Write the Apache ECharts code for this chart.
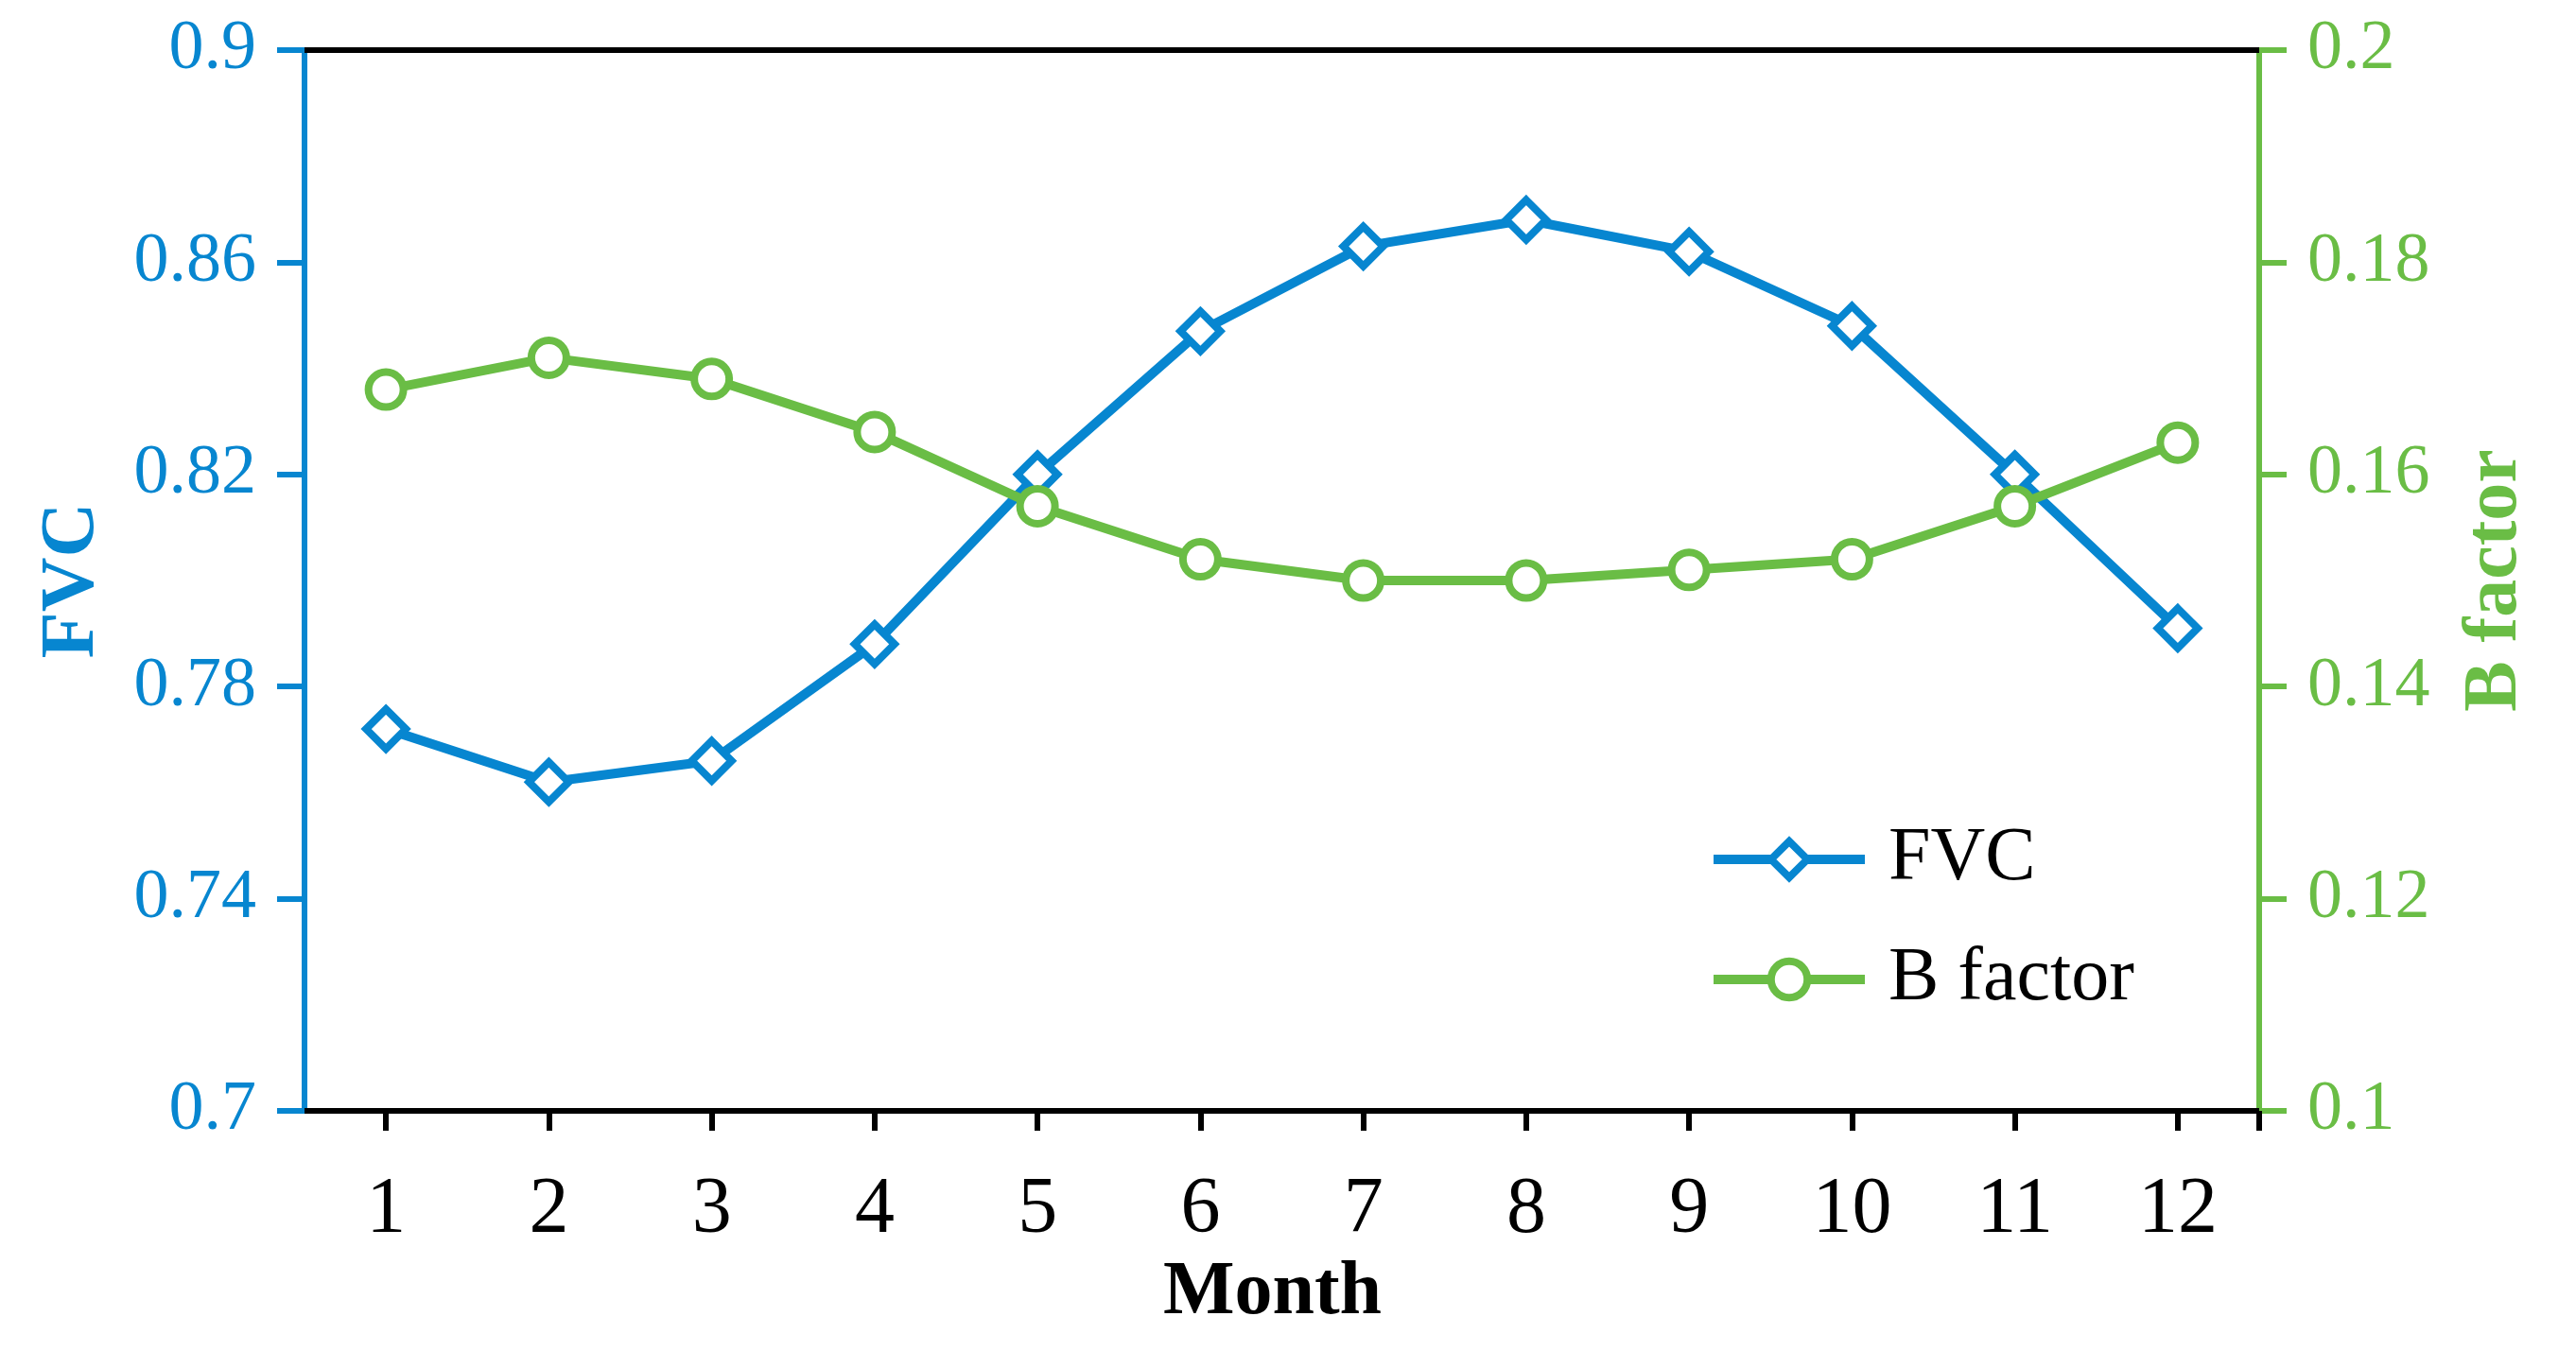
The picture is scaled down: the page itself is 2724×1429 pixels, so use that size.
<!DOCTYPE html>
<html>
<head>
<meta charset="utf-8">
<script src="https://cdn.jsdelivr.net/npm/echarts@6/dist/echarts.min.js"></script>
<style>
html,body{margin:0;padding:0;background:#fff;}
#chart{width:2724px;height:1429px;}
</style>
</head>
<body>
<div id="chart"></div>
<script>
const months = ['1','2','3','4','5','6','7','8','9','10','11','12'];
const fvc = [0.772, 0.762, 0.766, 0.788, 0.820, 0.847, 0.863, 0.868, 0.862, 0.848, 0.820, 0.791];
const bFactor = [0.168, 0.171, 0.169, 0.164, 0.157, 0.152, 0.150, 0.150, 0.151, 0.152, 0.157, 0.163];
const fvcTicks = [0.7, 0.74, 0.78, 0.82, 0.86, 0.9];
const bTicks = [0.1, 0.12, 0.14, 0.16, 0.18, 0.2];

const BLUE = '#0786d0';
const GREEN = '#6abd45';
const FONT = 'Liberation Serif';
const fmt = v => String(Math.round(v * 1000) / 1000);

const chart = echarts.init(document.getElementById('chart'), null, {renderer: 'canvas'});
chart.setOption({
  backgroundColor: '#fff',
  animation: false,
  grid: {left: 322, right: 335, top: 53, bottom: 254, containLabel: false},
  legend: {
    orient: 'vertical',
    left: 1807,
    top: 869,
    padding: 0,
    itemWidth: 160,
    itemHeight: 48,
    itemGap: 47,
    lineStyle: {width: 10},
    itemStyle: {borderWidth: 8},
    textStyle: {fontFamily: FONT, fontSize: 80, color: '#000', lineHeight: 80, padding: [0, 0, 0, 20]},
    data: ['FVC', 'B factor']
  },
  xAxis: [{
    type: 'category',
    data: months,
    boundaryGap: true,
    name: 'Month',
    nameLocation: 'middle',
    nameGap: 148,
    nameTextStyle: {fontFamily: FONT, fontSize: 80, fontWeight: 'bold', color: '#000', padding: [0, 20, 0, 0]},
    axisLine: {show: true, lineStyle: {color: '#000', width: 6}},
    axisTick: {show: true, alignWithLabel: true, inside: false, length: 21, lineStyle: {color: '#000', width: 6}},
    axisLabel: {fontFamily: FONT, fontSize: 84, color: '#000', margin: 64},
    splitLine: {show: false}
  }, {
    type: 'category',
    data: months,
    position: 'top',
    axisLine: {show: true, lineStyle: {color: '#000', width: 6}},
    axisTick: {show: false},
    axisLabel: {show: false},
    splitLine: {show: false}
  }, {
    type: 'value',
    position: 'bottom',
    min: 0.5,
    max: 12.5,
    axisLine: {show: false},
    axisTick: {show: true, inside: false, length: 21, customValues: [12.5], lineStyle: {color: '#000', width: 6}},
    axisLabel: {show: false},
    splitLine: {show: false}
  }],
  yAxis: [{
    type: 'value',
    position: 'left',
    min: fvcTicks[0],
    max: fvcTicks[fvcTicks.length - 1],
    name: 'FVC',
    nameLocation: 'middle',
    nameGap: 205,
    nameTextStyle: {fontFamily: FONT, fontSize: 80, fontWeight: 'bold', color: BLUE},
    axisLine: {show: true, lineStyle: {color: BLUE, width: 6}},
    axisTick: {show: true, inside: false, length: 29, customValues: fvcTicks, lineStyle: {color: BLUE, width: 6}},
    axisLabel: {fontFamily: FONT, fontSize: 74, color: BLUE, margin: 51, customValues: fvcTicks, formatter: fmt},
    splitLine: {show: false}
  }, {
    type: 'value',
    position: 'right',
    min: bTicks[0],
    max: bTicks[bTicks.length - 1],
    name: 'B factor',
    nameLocation: 'middle',
    nameGap: 210,
    nameTextStyle: {fontFamily: FONT, fontSize: 80, fontWeight: 'bold', color: GREEN},
    axisLine: {show: true, lineStyle: {color: GREEN, width: 6}},
    axisTick: {show: true, inside: false, length: 29, customValues: bTicks, lineStyle: {color: GREEN, width: 6}},
    axisLabel: {fontFamily: FONT, fontSize: 74, color: GREEN, margin: 51, customValues: bTicks, formatter: fmt},
    splitLine: {show: false}
  }],
  series: [{
    name: 'FVC',
    type: 'line',
    xAxisIndex: 0,
    yAxisIndex: 0,
    data: fvc,
    symbol: 'diamond',
    symbolSize: 42,
    lineStyle: {color: BLUE, width: 10},
    itemStyle: {color: '#fff', borderColor: BLUE, borderWidth: 8},
    emphasis: {disabled: true}
  }, {
    name: 'B factor',
    type: 'line',
    xAxisIndex: 0,
    yAxisIndex: 1,
    data: bFactor,
    symbol: 'circle',
    symbolSize: 37,
    lineStyle: {color: GREEN, width: 10},
    itemStyle: {color: '#fff', borderColor: GREEN, borderWidth: 8},
    emphasis: {disabled: true}
  }]
});
</script>
</body>
</html>
